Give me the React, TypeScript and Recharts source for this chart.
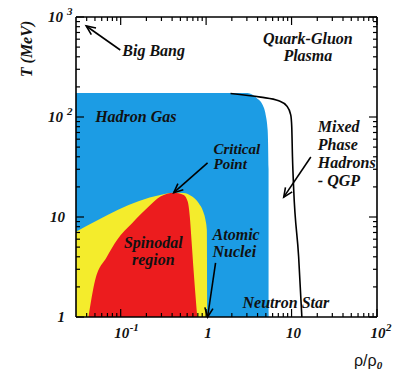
import React from 'react';
import { ComposedChart, Area, Line, XAxis, YAxis, ReferenceLine, ReferenceDot } from 'recharts';

// regions, x = rho/rho0, t = T (MeV)
const hadronGas = [
  { x: 0.03, t: 174 }, { x: 3.06, t: 174 }, { x: 3.9, t: 155 }, { x: 4.59, t: 132 },
  { x: 4.98, t: 105 }, { x: 5.25, t: 74 }, { x: 5.38, t: 30 }, { x: 5.4, t: 1 },
];
const liquidGas = [
  { x: 0.03, t: 7.1 }, { x: 0.29, t: 16.6 }, { x: 0.418, t: 17.5 }, { x: 0.543, t: 17.4 },
  { x: 0.687, t: 16 }, { x: 0.82, t: 13.7 }, { x: 0.925, t: 11.3 }, { x: 0.985, t: 9.3 },
  { x: 1.02, t: 7.4 }, { x: 1.03, t: 1 },
];
const spinodal = [
  { x: 0.042, t: 1 }, { x: 0.0503, t: 2.34 }, { x: 0.069, t: 4 }, { x: 0.0906, t: 5.9 },
  { x: 0.136, t: 8.65 }, { x: 0.213, t: 12.7 }, { x: 0.292, t: 16 }, { x: 0.418, t: 17.5 },
  { x: 0.547, t: 16.6 }, { x: 0.61, t: 14.2 }, { x: 0.644, t: 10.1 }, { x: 0.674, t: 5.9 },
  { x: 0.718, t: 2.73 }, { x: 0.787, t: 1 },
];
const phaseLine = [
  { x: 1.93, t: 172 }, { x: 4.35, t: 158 }, { x: 7.08, t: 145 }, { x: 8.79, t: 129 },
  { x: 9.78, t: 105 }, { x: 10.05, t: 80 }, { x: 10.25, t: 40 }, { x: 10.6, t: 18.6 },
  { x: 12.1, t: 4 }, { x: 13.2, t: 1 },
];

const xTicks = [0.04, 0.05, 0.06, 0.07, 0.08, 0.09, 0.1, 0.2, 0.3, 0.4, 0.5, 0.6, 0.7, 0.8, 0.9, 1,
  2, 3, 4, 5, 6, 7, 8, 9, 10, 20, 30, 40, 50, 60, 70, 80, 90, 100];
const yTicks = [1, 2, 3, 4, 5, 6, 7, 8, 9, 10, 20, 30, 40, 50, 60, 70, 80, 90, 100,
  200, 300, 400, 500, 600, 700, 800, 900, 1000];

const notes = [
  { x: 0.1045, t: 407, lines: ['Big Bang'], anchor: 'start', gap: 0, size: 16 },
  { x: 15.5, t: 537, lines: ['Quark-Gluon', 'Plasma'], anchor: 'middle', gap: 17, size: 16 },
  { x: 0.0503, t: 89.1, lines: ['Hadron Gas'], anchor: 'start', gap: 0, size: 16 },
  { x: 1.22, t: 43, lines: ['Critical', 'Point'], anchor: 'start', gap: 15, size: 15 },
  { x: 20.3, t: 70.8, lines: ['Mixed', 'Phase', 'Hadrons', '- QGP'], anchor: 'start', gap: 18, size: 16 },
  { x: 0.241, t: 4.9, lines: ['Spinodal', 'region'], anchor: 'middle', gap: 17, size: 16 },
  { x: 1.19, t: 5.89, lines: ['Atomic', 'Nuclei'], anchor: 'start', gap: 17, size: 16 },
  { x: 2.67, t: 1.23, lines: ['Neutron Star'], anchor: 'start', gap: 0, size: 16 },
];

// arrows: tail -> tip
const arrows = [
  [{ x: 0.0989, y: 468 }, { x: 0.0395, y: 813 }],
  [{ x: 1.04, y: 34.7 }, { x: 0.418, y: 17.5 }],
  [{ x: 1.29, y: 3.47 }, { x: 1.04, y: 1 }],
  [{ x: 16.8, y: 39.8 }, { x: 8.1, y: 15.8 }],
];

const serif = '"Liberation Serif", "Times New Roman", serif';

const isMajor = (v: number) => Math.abs(Math.log10(v) - Math.round(Math.log10(v))) < 1e-6;
const tickText = (v: number): [string, string] => {
  const e = Math.round(Math.log10(v));
  if (e === 0) return ['1', ''];
  if (e === 1) return ['10', ''];
  return ['10', String(e)];
};
const txt = { fontFamily: serif, fontWeight: 'bold', fontStyle: 'italic', fill: '#111' } as const;

const BottomTick = (p: any) => {
  const { x, y, payload } = p;
  const v = payload.value;
  const major = isMajor(v);
  const [base, sup] = tickText(v);
  return (
    <g>
      <line x1={x} x2={x} y1={y} y2={y - (major ? 8 : 4)} stroke="#000" strokeWidth={1.2} />
      {major && !sup && <text x={x + 2} y={y + 21} textAnchor="middle" fontSize={15} {...txt}>{base}</text>}
      {major && sup && (
        <g>
          <text x={x + 1} y={y + 21} textAnchor="middle" fontSize={15} {...txt}>{base}</text>
          <text x={x + 9} y={y + 14} textAnchor="start" fontSize={11} {...txt}>{sup}</text>
        </g>
      )}
    </g>
  );
};
const TopTick = (p: any) => {
  const { x, y, payload } = p;
  return <line x1={x} x2={x} y1={y} y2={y + (isMajor(payload.value) ? 8 : 4)} stroke="#000" strokeWidth={1.2} />;
};
const LeftTick = (p: any) => {
  const { x, y, payload } = p;
  const v = payload.value;
  const major = isMajor(v);
  const [base, sup] = tickText(v);
  return (
    <g>
      <line x1={x} x2={x + (major ? 8 : 4)} y1={y} y2={y} stroke="#000" strokeWidth={1.2} />
      {major && !sup && <text x={x - 11} y={y + 5} textAnchor="end" fontSize={15} {...txt}>{base}</text>}
      {major && sup && (
        <g>
          <text x={x - 13} y={y + 5} textAnchor="end" fontSize={15} {...txt}>{base}</text>
          <text x={x - 9} y={y - 2} textAnchor="start" fontSize={11} {...txt}>{sup}</text>
        </g>
      )}
    </g>
  );
};
const RightTick = (p: any) => {
  const { x, y, payload } = p;
  return <line x1={x} x2={x - (isMajor(payload.value) ? 8 : 4)} y1={y} y2={y} stroke="#000" strokeWidth={1.2} />;
};

const Arrow = (p: any) => {
  const { x1, y1, x2, y2 } = p;
  const a = Math.atan2(y2 - y1, x2 - x1);
  const L = 10;
  const s = 0.42;
  const h1 = [x2 - L * Math.cos(a - s), y2 - L * Math.sin(a - s)];
  const h2 = [x2 - L * Math.cos(a + s), y2 - L * Math.sin(a + s)];
  return (
    <g stroke="#000" strokeWidth={1.6} fill="none">
      <line x1={x1} y1={y1} x2={x2} y2={y2} />
      <polyline points={`${h1[0]},${h1[1]} ${x2},${y2} ${h2[0]},${h2[1]}`} />
    </g>
  );
};

const YTitle = (p: any) => {
  const vb = p.viewBox;
  const cx = vb.x - 43;
  const cy = vb.y + 32;
  return (
    <text x={cx} y={cy} transform={`rotate(-90, ${cx}, ${cy})`} textAnchor="middle" fontSize={16} {...txt}>T (MeV)</text>
  );
};
const XTitle = (p: any) => {
  const vb = p.viewBox;
  return (
    <text x={vb.x + vb.width - 23} y={vb.y + 49} fontSize={16} fontFamily='"Liberation Sans", Arial, sans-serif' fill="#111">
      ρ/ρ<tspan dy={3} fontSize={11} fontFamily={serif} fontWeight="bold" fontStyle="italic">0</tspan>
    </text>
  );
};

const axisLine = { stroke: '#000', strokeWidth: 1.6 };

export default function App() {
  return (
    <div style={{ position: 'absolute', left: 0, top: 0, width: 409, height: 373, background: '#fff' }}>
      <ComposedChart width={409} height={373} margin={{ top: 16, right: 31, bottom: 55, left: 75 }}>
        <XAxis dataKey="x" type="number" scale="log" domain={[0.03, 100]} allowDataOverflow
          ticks={xTicks} interval={0} height={1} tickSize={0} tickMargin={0}
          tick={<BottomTick />} axisLine={axisLine} label={<XTitle />} />
        <XAxis xAxisId="top" orientation="top" dataKey="x" type="number" scale="log" domain={[0.03, 100]} allowDataOverflow
          ticks={xTicks} interval={0} height={1} tickSize={0} tickMargin={0}
          tick={<TopTick />} axisLine={axisLine} />
        <YAxis dataKey="t" type="number" scale="log" domain={[1, 1000]} allowDataOverflow
          ticks={yTicks} interval={0} width={1} tickSize={0} tickMargin={0}
          tick={<LeftTick />} axisLine={axisLine} label={<YTitle />} />
        <YAxis yAxisId="right" orientation="right" dataKey="t" type="number" scale="log" domain={[1, 1000]} allowDataOverflow
          ticks={yTicks} interval={0} width={1} tickSize={0} tickMargin={0}
          tick={<RightTick />} axisLine={axisLine} />

        <Area data={hadronGas} dataKey="t" type="monotone" baseValue={1} fill="#1C9CE4" fillOpacity={1} stroke="none" isAnimationActive={false} />
        <Area data={liquidGas} dataKey="t" type="monotone" baseValue={1} fill="#F4EC2C" fillOpacity={1} stroke="none" isAnimationActive={false} />
        <Area data={spinodal} dataKey="t" type="monotone" baseValue={1} fill="#EC1C1E" fillOpacity={1} stroke="none" isAnimationActive={false} />
        <Line data={phaseLine} dataKey="t" type="monotone" stroke="#000" strokeWidth={1.6} dot={false} isAnimationActive={false} />

        {arrows.map((seg, i) => (
          <ReferenceLine key={`a${i}`} segment={seg} shape={Arrow} />
        ))}
        {notes.map((n, i) => (
          <ReferenceDot key={`n${i}`} x={n.x} y={n.t} r={1}
            shape={(p: any) => (
              <text x={p.cx} y={p.cy} textAnchor={n.anchor as any} fontSize={n.size} {...txt}>
                {n.lines.map((l, j) => (
                  <tspan key={j} x={p.cx} dy={j === 0 ? 0 : n.gap}>{l}</tspan>
                ))}
              </text>
            )} />
        ))}
      </ComposedChart>
    </div>
  );
}
